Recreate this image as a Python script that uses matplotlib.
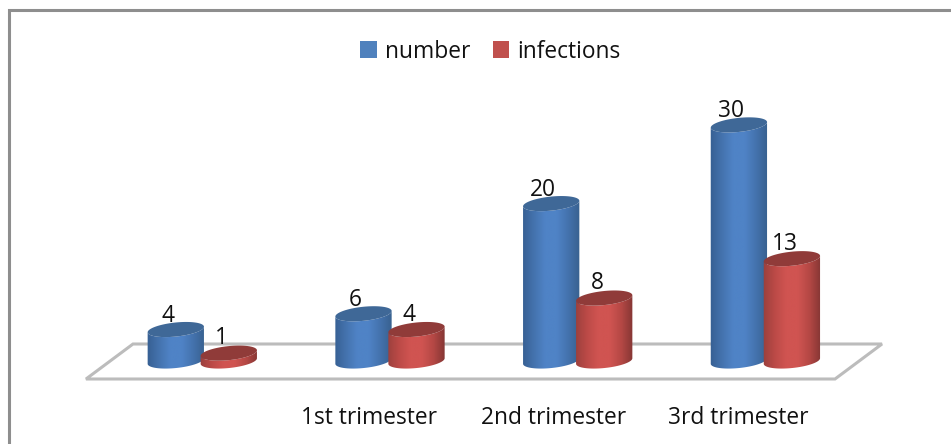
import numpy as np
import matplotlib
matplotlib.use("Agg")
import matplotlib.pyplot as plt
from matplotlib.colors import LinearSegmentedColormap
from matplotlib.patches import Patch, Polygon

categories = ["", "1st trimester", "2nd trimester", "3rd trimester"]
number = [4, 6, 20, 30]
infections = [1, 4, 8, 13]

W, H = 951, 444
PX_PER_CAT = 187.7
PX_PER_VAL = 7.87
X0_PX = 202.3   # first group centre
Y0_PX = 361     # value zero, centre of the bottom ellipse
FONT_SIZE = 16.4

plt.rcParams['font.family'] = ['Open Sans', 'DejaVu Sans']
fig = plt.figure(figsize=(W / 100, H / 100), dpi=100)
ax = fig.add_axes([0, 0, 1, 1])
ax.set_xlim(-X0_PX / PX_PER_CAT, (W - X0_PX) / PX_PER_CAT)
ax.set_ylim((Y0_PX - H) / PX_PER_VAL, Y0_PX / PX_PER_VAL)
ax.axis("off")


def px(x, y):
    # pixel position (from top left) to data coordinates
    return (x - X0_PX) / PX_PER_CAT, (Y0_PX - y) / PX_PER_VAL


# frame of the picture, only top and left show
ax.plot(*zip(px(9, H), px(9, 10), px(W, 10)), color="#8e8e8e", lw=2.2,
        solid_joinstyle="miter", zorder=1)

# floor
floor = [px(86, 379), px(835, 379), px(882, 344), px(133, 344)]
ax.add_patch(Polygon(floor, closed=True, fc="white", ec="#bcbcbc", lw=2.2, zorder=1))


def ellipse_arc(cx, cy, t):
    # tilted ellipse in pixels, returned in data coordinates
    a, b, tilt = 28.3, 7.0, np.radians(6)
    ex = a * np.cos(t)
    ey = b * np.sin(t)
    xs = cx + ex * np.cos(tilt) + ey * np.sin(tilt)
    ys = cy - ex * np.sin(tilt) + ey * np.cos(tilt)
    return np.column_stack(px(xs, ys))


def cylinder(i, value, offset, colors, top_color, zorder):
    cx = X0_PX + PX_PER_CAT * i + offset
    top_y = Y0_PX - value * PX_PER_VAL
    front = np.linspace(0, np.pi, 60)
    bottom_arc = ellipse_arc(cx, Y0_PX, front)
    top_arc = ellipse_arc(cx, top_y, np.pi - front)
    body = Polygon(np.vstack([bottom_arc, top_arc]), closed=True, fc="none", ec="none", zorder=zorder)
    ax.add_patch(body)
    x_left, _ = px(cx - 29, 0)
    x_right, _ = px(cx + 29, 0)
    cmap = LinearSegmentedColormap.from_list("cyl", colors)
    im = ax.imshow(np.linspace(0, 1, 256).reshape(1, -1), cmap=cmap, aspect="auto",
                   extent=[x_left, x_right, -1, value + 2], zorder=zorder)
    im.set_clip_path(body)
    whole = np.linspace(0, 2 * np.pi, 120)
    ax.add_patch(Polygon(ellipse_arc(cx, top_y, whole), closed=True, fc=top_color, ec="none", zorder=zorder + 0.1))


blue_grad = ["#365f92", "#4472ad", "#4f83c6", "#4f83c6", "#4472ad", "#38618f"]
red_grad = ["#9a3f3c", "#bb4a47", "#d05451", "#d05451", "#b54845", "#853634"]

for i in range(len(categories)):
    cylinder(i, number[i], -26.5, blue_grad, "#3f6897", 3)
    cylinder(i, infections[i], 26.5, red_grad, "#903b39", 4)
    ax.annotate(str(number[i]), (i - 26.5 / PX_PER_CAT, number[i]), xytext=(-8, 14),
                textcoords="offset pixels", ha="center", va="center", fontsize=FONT_SIZE, color="#111111", zorder=6)
    ax.annotate(str(infections[i]), (i + 26.5 / PX_PER_CAT, infections[i]), xytext=(-7, 15),
                textcoords="offset pixels", ha="center", va="center", fontsize=FONT_SIZE, color="#111111", zorder=6)
    # category labels drift left of the groups because of the floor perspective
    ax.annotate(categories[i], (i, 0), xytext=(-17.4 - 3.3 * i, -57), textcoords="offset pixels",
                ha="center", va="center", fontsize=FONT_SIZE, color="#111111")

handles = [Patch(fc="#4f81bd", label="number"), Patch(fc="#c0504d", label="infections")]
ax.legend(handles=handles, loc="center", bbox_to_anchor=(490.5 / W, 1 - 51.5 / H), ncol=2, frameon=False,
          fontsize=FONT_SIZE, handlelength=0.72, handleheight=0.72, handletextpad=0.35, columnspacing=1.0,
          labelcolor="#111111")

fig.savefig("out.png", dpi=100, facecolor="white")
